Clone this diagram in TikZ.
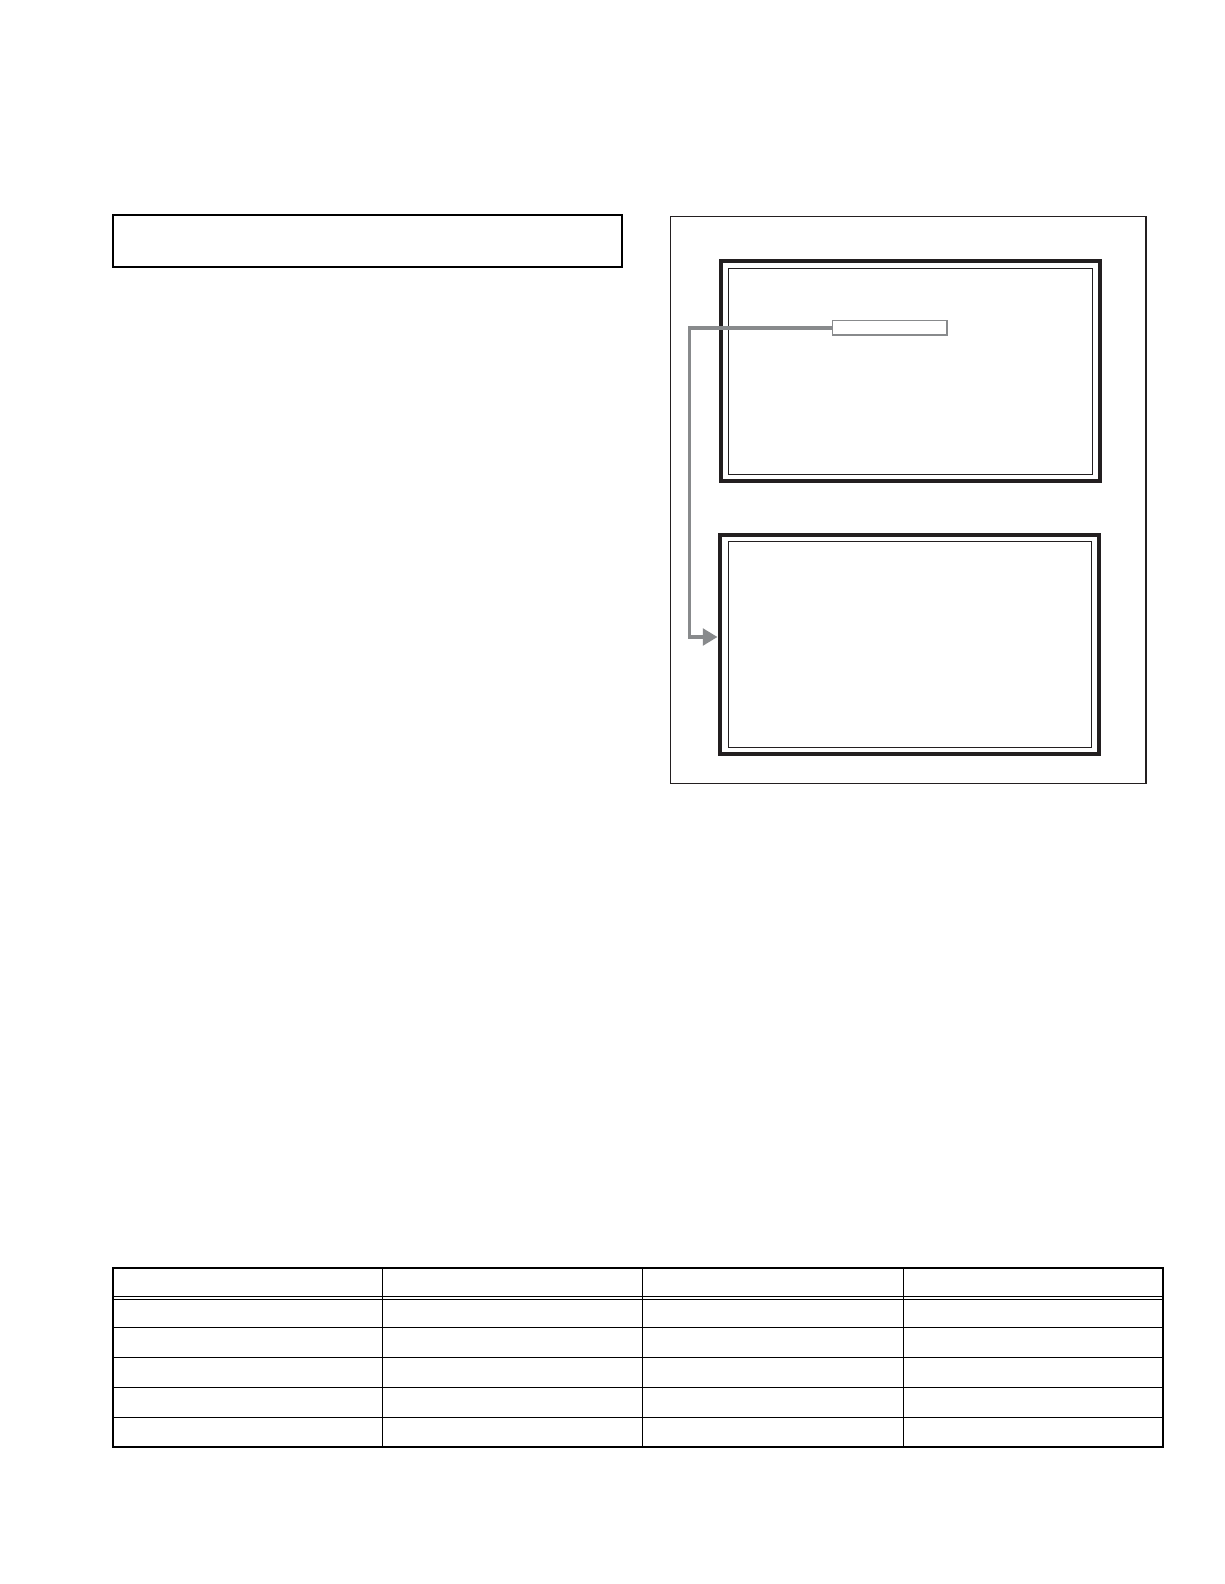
\documentclass[tikz,border=0pt]{standalone}
\usetikzlibrary{arrows.meta}
\definecolor{ink}{RGB}{35,31,32}
\definecolor{conngray}{RGB}{136,138,140}
\tikzset{
  box/.style={draw=black, line width=2pt, inner sep=0pt, outer sep=0pt, rectangle},
  panel/.style={draw=ink, line width=1.3pt, inner sep=0pt, outer sep=0pt, rectangle},
  screenout/.style={draw=ink, line width=4pt, inner sep=0pt, outer sep=0pt, rectangle},
  screenin/.style={draw=ink, line width=1pt, inner sep=0pt, outer sep=0pt, rectangle},
  tagbox/.style={draw=conngray, line width=1.4pt, fill=white, inner sep=0pt, outer sep=0pt, rectangle},
  conn/.style={draw=conngray, line width=3.3pt, -{Triangle[length=14.7pt,width=16.7pt]}},
  tblouter/.style={draw=black, line width=2pt},
  tblline/.style={draw=black, line width=1pt}
}
\begin{document}
\begin{tikzpicture}[x=1pt,y=-1pt]
\useasboundingbox (0,0) rectangle (1224,1584);
% top-left box
\node[box, minimum width=509.5pt, minimum height=51.7pt] (titlebox) at (367.25,240.85) {};
% right panel
\node[panel, minimum width=475.3pt, minimum height=567pt] (panel) at (908.35,500.2) {};
% upper screen
\node[screenout, minimum width=378.4pt, minimum height=219.4pt] (scr1) at (910.5,371) {};
\node[screenin, minimum width=363.7pt, minimum height=206.3pt] (scr1in) at (910.15,371.15) {};
% lower screen
\node[screenout, minimum width=378.7pt, minimum height=219.2pt] (scr2) at (909.35,644.1) {};
\node[screenin, minimum width=362.6pt, minimum height=206.3pt] (scr2in) at (910,644.15) {};
% small tag and connector
\node[tagbox, minimum width=114.3pt, minimum height=14.3pt] (tag) at (889.85,327.85) {};
\coordinate (bend) at (689.7,327.85);
\coordinate (tipy) at (0,637);
\draw[conn] (tag.west) -- (bend) |- ([xshift=-2.5pt]scr2.west |- tipy);
% table
\draw[tblouter] (112.5,1267.7) rectangle (1162.5,1447.3);
\foreach \x in {382.3,642,903}
  \draw[tblline] (\x,1267.7) -- (\x,1447.3);
\foreach \y in {1296.3,1299.2,1327.3,1357.3,1387,1417}
  \draw[tblline] (112.5,\y) -- (1162.5,\y);
\end{tikzpicture}
\end{document}
